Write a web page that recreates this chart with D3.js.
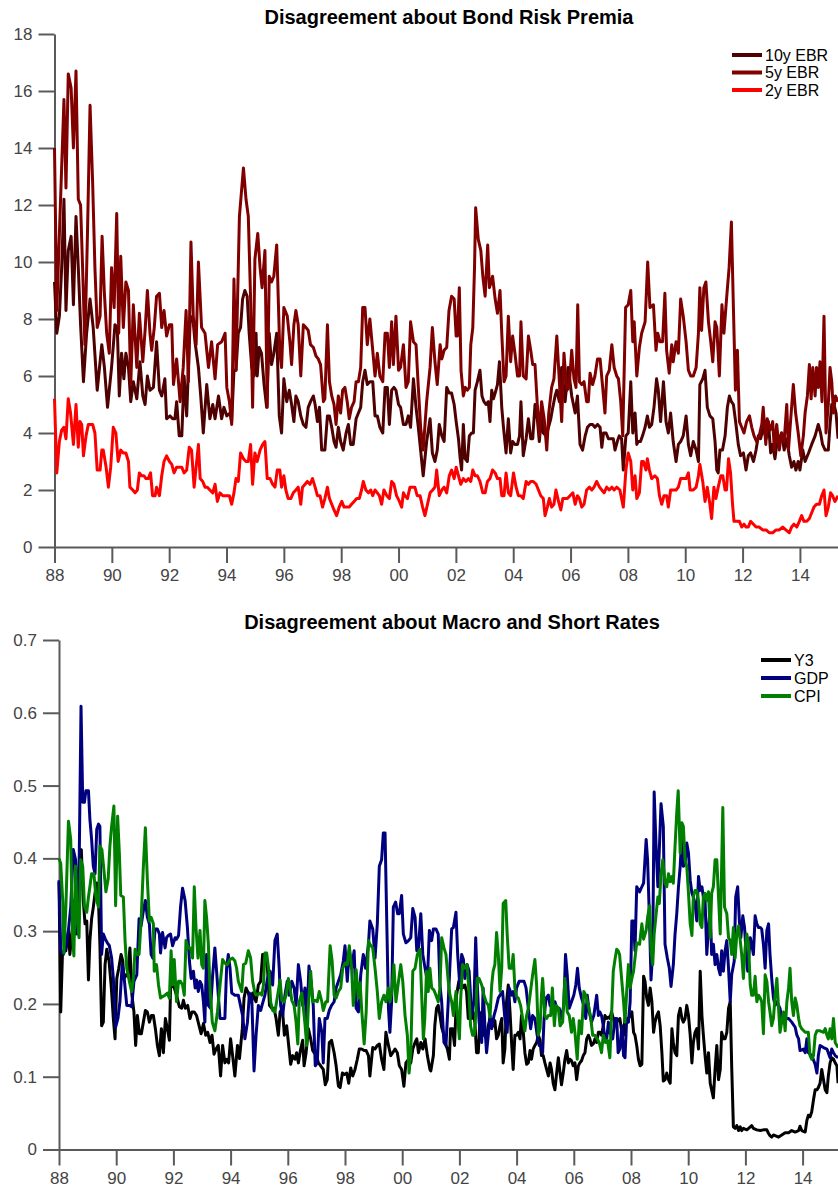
<!DOCTYPE html>
<html>
<head>
<meta charset="utf-8">
<script src="https://cdn.jsdelivr.net/npm/d3@7"></script>
<style>
body { margin: 0; background: #fff; }
svg { display: block; font-family: "Liberation Sans", Arial, Helvetica, sans-serif; }
</style>
</head>
<body>
<svg id="chart" width="838" height="1190"></svg>
<script>
// ---- data ([decimal year, value]) ----
const yearTicks = [1988, 1990, 1992, 1994, 1996, 1998, 2000, 2002, 2004, 2006, 2008, 2010, 2012, 2014];
const ebrTicks = [0, 2, 4, 6, 8, 10, 12, 14, 16, 18];
const macroTicks = [0, 0.1, 0.2, 0.3, 0.4, 0.5, 0.6, 0.7];

const ebrNames = ["10y EBR", "5y EBR", "2y EBR"];
const ebrColors = ["#4f0000", "#800000", "#ff0000"];
const macroNames = ["Y3", "GDP", "CPI"];
const macroColors = ["#000000", "#00007f", "#007f00"];

const ebr10y = [
  [1988.00,9.3],[1988.08,7.5],[1988.17,8.1],[1988.25,9.8],[1988.33,12.2],[1988.40,8.3],[1988.48,10.4],[1988.58,10.9],
  [1988.66,8.5],[1988.75,11.6],[1988.83,9.8],[1988.91,7.8],[1989.01,5.8],[1989.12,7.5],[1989.24,8.7],[1989.35,7.7],
  [1989.49,5.5],[1989.65,7.1],[1989.74,6.3],[1989.85,4.9],[1989.99,6.3],[1990.11,7.8],[1990.19,7.7],[1990.26,5.3],
  [1990.34,6.8],[1990.42,5.9],[1990.49,6.8],[1990.58,6.3],[1990.66,5.1],[1990.75,5.8],[1990.87,5.2],[1990.98,6.5],
  [1991.08,5.3],[1991.16,5.0],[1991.24,6.0],[1991.33,5.5],[1991.45,5.6],[1991.56,7.2],[1991.66,5.5],[1991.74,5.3],
  [1991.85,5.9],[1991.91,4.5],[1992.03,4.6],[1992.12,4.5],[1992.20,4.5],[1992.26,5.1],[1992.35,3.9],[1992.44,3.9],
  [1992.52,6.0],[1992.61,4.6],[1992.73,7.9],[1992.82,8.1],[1992.90,7.2],[1993.02,6.3],[1993.10,5.3],[1993.19,4.0],
  [1993.31,5.7],[1993.42,4.5],[1993.52,5.0],[1993.60,4.5],[1993.72,5.3],[1993.83,4.5],[1993.91,4.9],[1994.01,4.6],
  [1994.12,4.7],[1994.18,4.4],[1994.26,6.2],[1994.33,6.2],[1994.41,7.5],[1994.49,7.7],[1994.56,8.7],[1994.64,9.0],
  [1994.72,8.8],[1994.79,7.5],[1994.88,6.3],[1994.96,6.0],[1995.03,7.5],[1995.07,6.0],[1995.14,7.0],[1995.22,6.8],
  [1995.31,5.7],[1995.40,4.9],[1995.49,7.5],[1995.57,6.4],[1995.65,6.8],[1995.75,7.5],[1995.84,4.6],[1995.92,4.0],
  [1996.00,5.9],[1996.10,5.1],[1996.19,5.5],[1996.27,5.0],[1996.35,4.4],[1996.42,5.3],[1996.50,5.1],[1996.59,4.6],
  [1996.68,4.3],[1996.77,4.2],[1996.85,4.9],[1996.93,5.1],[1997.03,5.3],[1997.09,5.0],[1997.17,4.4],[1997.24,4.9],
  [1997.32,3.4],[1997.43,3.4],[1997.52,4.6],[1997.59,4.6],[1997.67,4.2],[1997.75,3.7],[1997.82,3.5],[1997.90,4.2],
  [1997.98,3.7],[1998.07,3.4],[1998.17,4.0],[1998.25,4.3],[1998.33,3.6],[1998.42,3.6],[1998.52,4.5],[1998.60,4.7],
  [1998.68,4.9],[1998.75,5.8],[1998.83,6.2],[1998.91,5.7],[1999.00,5.8],[1999.10,5.8],[1999.18,4.6],[1999.26,4.6],
  [1999.35,4.2],[1999.45,4.0],[1999.53,5.6],[1999.61,5.6],[1999.68,4.3],[1999.76,5.5],[1999.84,5.6],[1999.91,5.5],
  [2000.00,5.0],[2000.07,4.9],[2000.17,4.3],[2000.26,4.3],[2000.34,4.6],[2000.42,4.2],[2000.52,5.9],[2000.61,4.9],
  [2000.69,4.2],[2000.77,3.4],[2000.86,2.5],[2000.98,3.7],[2001.10,4.5],[2001.18,3.3],[2001.27,3.0],[2001.35,3.4],
  [2001.42,4.3],[2001.51,3.9],[2001.59,3.7],[2001.68,5.6],[2001.77,5.4],[2001.85,5.4],[2001.94,5.0],[2002.01,4.4],
  [2002.09,3.8],[2002.15,3.1],[2002.20,2.7],[2002.26,4.3],[2002.32,3.1],[2002.40,3.0],[2002.47,3.9],[2002.55,4.0],
  [2002.61,4.0],[2002.67,5.5],[2002.75,5.8],[2002.84,6.2],[2002.91,5.3],[2002.98,5.1],[2003.05,5.0],[2003.13,5.1],
  [2003.19,4.4],[2003.25,5.5],[2003.31,5.2],[2003.37,5.4],[2003.45,5.7],[2003.52,6.5],[2003.60,4.9],[2003.66,4.2],
  [2003.75,3.3],[2003.83,4.5],[2003.91,3.3],[2003.98,3.7],[2004.06,3.6],[2004.15,3.6],[2004.22,3.9],[2004.27,5.1],
  [2004.35,3.2],[2004.45,3.8],[2004.53,4.5],[2004.61,3.8],[2004.68,3.8],[2004.76,5.0],[2004.84,4.5],[2004.91,3.7],
  [2004.99,4.6],[2005.05,4.0],[2005.15,3.9],[2005.23,4.2],[2005.31,4.5],[2005.38,4.9],[2005.46,5.3],[2005.52,5.5],
  [2005.61,5.1],[2005.69,6.3],[2005.81,5.1],[2005.92,6.3],[2006.04,5.3],[2006.16,4.7],[2006.24,5.3],[2006.33,3.6],
  [2006.42,3.4],[2006.51,3.9],[2006.59,4.2],[2006.68,4.3],[2006.77,4.3],[2006.85,4.2],[2006.94,4.3],[2007.03,4.2],
  [2007.09,3.5],[2007.15,4.0],[2007.24,4.0],[2007.32,3.8],[2007.40,3.8],[2007.49,3.8],[2007.55,3.4],[2007.63,3.7],
  [2007.70,3.9],[2007.78,3.8],[2007.84,2.7],[2007.93,3.9],[2008.01,4.0],[2008.10,5.8],[2008.17,4.0],[2008.25,4.7],
  [2008.31,3.6],[2008.36,3.7],[2008.44,3.7],[2008.51,3.9],[2008.60,4.2],[2008.68,4.6],[2008.75,4.2],[2008.83,4.3],
  [2008.91,4.9],[2009.00,5.9],[2009.06,5.5],[2009.14,4.4],[2009.24,5.8],[2009.33,4.4],[2009.41,4.0],[2009.49,4.7],
  [2009.58,3.7],[2009.68,3.0],[2009.76,3.6],[2009.84,3.7],[2009.93,3.9],[2010.03,4.6],[2010.11,3.6],[2010.19,3.2],
  [2010.28,3.7],[2010.38,3.4],[2010.46,3.0],[2010.51,5.7],[2010.61,5.9],[2010.69,6.2],[2010.77,4.9],[2010.86,4.6],
  [2010.96,4.5],[2011.04,3.7],[2011.10,2.7],[2011.15,2.6],[2011.21,3.4],[2011.30,3.4],[2011.39,3.9],[2011.47,4.9],
  [2011.54,5.3],[2011.61,5.1],[2011.68,5.0],[2011.77,4.3],[2011.85,3.6],[2011.93,3.2],[2012.03,3.3],[2012.12,2.7],
  [2012.20,3.2],[2012.28,3.3],[2012.38,3.0],[2012.47,3.4],[2012.55,3.9],[2012.63,3.8],[2012.72,4.2],[2012.82,3.8],
  [2012.90,4.4],[2012.98,3.3],[2013.05,3.6],[2013.13,3.1],[2013.19,3.6],[2013.28,3.8],[2013.36,4.0],[2013.45,3.4],
  [2013.54,3.8],[2013.63,3.2],[2013.71,2.8],[2013.79,3.0],[2013.86,2.7],[2013.94,3.0],[2014.00,2.7],[2014.10,3.4],
  [2014.18,3.0],[2014.30,3.3],[2014.41,3.6],[2014.53,3.9],[2014.64,4.3],[2014.72,4.0],[2014.79,3.6],[2014.88,3.4],
  [2014.99,3.4],[2015.05,4.3],[2015.11,5.0],[2015.19,5.0],[2015.26,4.7],[2015.33,3.8]
];

const ebr5y = [
  [1988.00,14.0],[1988.08,8.3],[1988.33,15.7],[1988.40,12.6],[1988.48,16.6],[1988.58,16.1],[1988.66,14.0],[1988.75,16.7],
  [1988.83,12.2],[1988.91,12.0],[1988.98,9.8],[1989.06,7.1],[1989.15,11.0],[1989.24,15.5],[1989.33,12.8],[1989.41,9.8],
  [1989.49,7.7],[1989.59,8.1],[1989.66,10.9],[1989.74,8.9],[1989.82,7.5],[1989.91,6.8],[1989.99,9.8],[1990.08,8.4],
  [1990.17,11.7],[1990.24,7.5],[1990.31,10.2],[1990.40,7.7],[1990.49,9.3],[1990.58,9.0],[1990.66,5.7],[1990.75,8.5],
  [1990.87,6.3],[1990.96,8.2],[1991.08,6.5],[1991.16,7.6],[1991.24,9.0],[1991.33,7.5],[1991.39,6.9],[1991.48,7.7],
  [1991.56,8.8],[1991.66,8.9],[1991.74,7.7],[1991.82,8.3],[1991.91,7.4],[1992.01,7.8],[1992.09,7.8],[1992.15,5.7],
  [1992.26,6.6],[1992.38,5.1],[1992.49,6.3],[1992.59,8.3],[1992.67,5.8],[1992.76,10.7],[1992.84,8.1],[1992.94,7.1],
  [1993.02,10.0],[1993.13,7.7],[1993.25,7.5],[1993.37,6.3],[1993.48,7.2],[1993.60,5.9],[1993.69,7.1],[1993.83,7.2],
  [1993.95,7.5],[1994.01,5.6],[1994.10,5.1],[1994.18,4.3],[1994.26,9.4],[1994.33,6.2],[1994.45,11.6],[1994.59,13.3],
  [1994.68,12.2],[1994.76,11.6],[1994.84,8.7],[1994.91,4.9],[1994.99,10.1],[1995.09,11.0],[1995.17,9.8],[1995.24,9.1],
  [1995.34,10.4],[1995.42,4.9],[1995.49,9.5],[1995.57,9.3],[1995.65,9.5],[1995.75,10.6],[1995.86,6.8],[1995.92,6.3],
  [1996.00,8.4],[1996.12,8.1],[1996.21,7.2],[1996.27,6.4],[1996.35,7.8],[1996.42,8.3],[1996.50,7.8],[1996.59,6.0],
  [1996.68,7.8],[1996.77,7.7],[1996.85,7.6],[1996.93,7.1],[1997.03,7.0],[1997.12,6.7],[1997.20,6.6],[1997.28,6.4],
  [1997.38,5.1],[1997.43,5.2],[1997.52,7.8],[1997.59,5.8],[1997.67,5.3],[1997.75,5.0],[1997.82,4.3],[1997.90,5.3],
  [1997.98,4.7],[1998.05,5.5],[1998.13,5.6],[1998.21,5.1],[1998.28,4.5],[1998.36,4.9],[1998.45,5.1],[1998.52,5.8],
  [1998.60,5.8],[1998.68,6.3],[1998.75,8.4],[1998.83,8.4],[1998.91,7.1],[1999.00,8.0],[1999.10,6.9],[1999.18,6.0],
  [1999.26,6.8],[1999.35,6.0],[1999.45,5.8],[1999.53,7.5],[1999.61,7.5],[1999.68,6.3],[1999.76,7.9],[1999.82,6.4],
  [1999.91,8.1],[2000.00,6.2],[2000.07,6.3],[2000.17,7.1],[2000.26,5.6],[2000.34,5.8],[2000.42,7.9],[2000.52,7.2],
  [2000.61,7.1],[2000.69,5.6],[2000.77,4.2],[2000.86,3.4],[2000.98,5.1],[2001.10,6.3],[2001.18,7.7],[2001.27,6.5],
  [2001.35,5.7],[2001.45,7.1],[2001.51,6.6],[2001.59,6.9],[2001.68,7.0],[2001.76,8.3],[2001.85,8.8],[2001.94,8.7],
  [2002.01,7.4],[2002.05,7.4],[2002.12,9.1],[2002.18,6.2],[2002.26,5.3],[2002.33,5.6],[2002.40,5.5],[2002.47,5.6],
  [2002.52,7.1],[2002.59,7.7],[2002.65,9.8],[2002.69,11.9],[2002.78,10.8],[2002.87,10.4],[2002.94,9.5],[2003.02,8.8],
  [2003.11,10.6],[2003.17,9.1],[2003.23,9.3],[2003.28,9.5],[2003.37,8.7],[2003.45,8.2],[2003.54,9.0],[2003.60,7.5],
  [2003.68,5.8],[2003.75,6.0],[2003.83,8.1],[2003.91,6.5],[2003.98,7.4],[2004.06,6.8],[2004.15,6.0],[2004.22,6.0],
  [2004.27,7.9],[2004.35,6.0],[2004.45,5.9],[2004.53,7.4],[2004.61,6.9],[2004.68,6.4],[2004.76,6.4],[2004.84,5.0],
  [2004.91,3.9],[2004.99,5.1],[2005.08,4.5],[2005.17,3.4],[2005.24,4.7],[2005.34,5.6],[2005.42,5.9],[2005.52,7.4],
  [2005.61,5.8],[2005.69,4.4],[2005.77,6.8],[2005.87,5.5],[2005.95,5.6],[2006.04,6.9],[2006.12,5.9],[2006.19,5.6],
  [2006.25,8.5],[2006.31,5.8],[2006.39,5.7],[2006.47,5.8],[2006.56,5.1],[2006.62,5.1],[2006.68,6.1],[2006.77,5.7],
  [2006.85,6.0],[2006.94,6.6],[2007.03,6.6],[2007.12,5.6],[2007.20,4.7],[2007.26,6.0],[2007.35,6.2],[2007.44,7.1],
  [2007.52,6.3],[2007.61,6.0],[2007.67,5.9],[2007.75,5.1],[2007.82,3.9],[2007.92,8.4],[2008.01,8.5],[2008.10,9.0],
  [2008.17,7.2],[2008.22,7.9],[2008.31,6.0],[2008.40,7.0],[2008.48,7.5],[2008.60,7.9],[2008.69,10.0],[2008.77,8.4],
  [2008.89,8.5],[2008.98,6.9],[2009.04,7.5],[2009.12,7.2],[2009.21,7.2],[2009.29,8.9],[2009.35,6.9],[2009.44,6.1],
  [2009.53,7.1],[2009.58,6.5],[2009.68,7.2],[2009.76,6.8],[2009.84,8.7],[2009.93,8.1],[2010.03,7.2],[2010.11,6.2],
  [2010.19,6.0],[2010.28,6.0],[2010.38,6.3],[2010.46,7.5],[2010.51,9.1],[2010.57,7.6],[2010.65,9.1],[2010.72,9.3],
  [2010.81,7.9],[2010.89,7.2],[2010.96,6.5],[2011.04,7.9],[2011.10,7.7],[2011.19,6.0],[2011.28,8.5],[2011.35,7.5],
  [2011.44,8.7],[2011.53,9.8],[2011.61,11.4],[2011.68,8.4],[2011.75,5.5],[2011.82,6.9],[2011.89,4.4],[2011.97,4.2],
  [2012.05,4.0],[2012.14,4.4],[2012.24,4.6],[2012.32,4.2],[2012.40,3.9],[2012.49,3.7],[2012.58,3.9],[2012.67,4.3],
  [2012.72,4.9],[2012.81,3.6],[2012.86,4.5],[2012.96,4.1],[2013.05,4.4],[2013.11,3.4],[2013.19,4.3],[2013.28,3.4],
  [2013.36,4.0],[2013.45,3.7],[2013.54,5.0],[2013.60,3.4],[2013.68,4.5],[2013.77,5.7],[2013.85,4.7],[2013.94,4.0],
  [2014.03,3.2],[2014.12,3.9],[2014.18,4.7],[2014.26,5.3],[2014.33,6.4],[2014.39,5.2],[2014.45,6.3],[2014.53,5.3],
  [2014.58,6.3],[2014.64,5.6],[2014.70,6.5],[2014.77,5.1],[2014.84,8.1],[2014.91,4.0],[2014.99,5.0],[2015.05,6.3],
  [2015.11,5.8],[2015.17,4.7],[2015.24,5.3],[2015.33,5.1]
];

const ebr2y = [
  [1988.00,5.2],[1988.08,2.6],[1988.17,3.7],[1988.25,4.1],[1988.33,4.2],[1988.40,3.8],[1988.48,5.2],[1988.56,4.7],
  [1988.66,3.6],[1988.75,5.0],[1988.83,3.5],[1988.89,4.4],[1988.95,4.3],[1989.01,3.2],[1989.10,3.9],[1989.18,4.3],
  [1989.26,4.3],[1989.33,4.3],[1989.41,4.0],[1989.49,2.7],[1989.59,2.7],[1989.65,3.4],[1989.70,3.4],[1989.80,2.8],
  [1989.88,2.1],[1989.96,2.8],[1990.05,4.2],[1990.14,4.0],[1990.22,3.0],[1990.31,3.4],[1990.40,3.3],[1990.49,3.3],
  [1990.58,3.0],[1990.63,2.1],[1990.73,2.0],[1990.81,1.9],[1990.89,2.0],[1990.96,2.6],[1991.04,2.5],[1991.12,2.5],
  [1991.19,2.4],[1991.27,2.4],[1991.35,2.6],[1991.42,1.8],[1991.51,1.8],[1991.56,2.1],[1991.66,1.8],[1991.74,2.5],
  [1991.82,3.0],[1991.91,3.2],[1992.01,3.0],[1992.09,2.9],[1992.17,2.6],[1992.26,2.8],[1992.35,2.8],[1992.44,2.8],
  [1992.52,2.6],[1992.61,2.7],[1992.70,3.5],[1992.78,3.4],[1992.87,2.1],[1992.94,2.8],[1993.02,3.6],[1993.08,2.4],
  [1993.17,2.3],[1993.25,2.1],[1993.33,2.1],[1993.42,2.0],[1993.52,1.9],[1993.60,2.2],[1993.68,1.6],[1993.77,1.9],
  [1993.87,1.8],[1993.95,1.8],[1994.03,1.8],[1994.10,1.8],[1994.18,1.5],[1994.26,1.9],[1994.33,2.4],[1994.41,2.3],
  [1994.49,3.3],[1994.59,3.1],[1994.68,3.0],[1994.76,3.0],[1994.84,3.6],[1994.91,2.2],[1994.99,3.3],[1995.07,3.0],
  [1995.17,3.4],[1995.26,3.6],[1995.34,3.7],[1995.42,2.4],[1995.52,2.4],[1995.61,2.2],[1995.69,2.1],[1995.77,2.7],
  [1995.86,2.7],[1995.92,2.1],[1996.00,2.5],[1996.07,2.0],[1996.15,1.7],[1996.24,1.7],[1996.33,1.9],[1996.42,2.0],
  [1996.50,2.1],[1996.59,1.5],[1996.65,2.1],[1996.74,2.2],[1996.82,2.3],[1996.91,2.2],[1997.00,2.4],[1997.09,2.1],
  [1997.17,1.8],[1997.26,1.8],[1997.35,1.4],[1997.43,1.7],[1997.52,2.1],[1997.59,1.7],[1997.67,1.5],[1997.75,1.3],
  [1997.84,1.1],[1997.93,1.4],[1998.02,1.6],[1998.10,1.4],[1998.19,1.4],[1998.28,1.4],[1998.36,1.5],[1998.45,1.6],
  [1998.54,1.7],[1998.63,1.7],[1998.71,2.0],[1998.77,2.3],[1998.86,2.0],[1998.95,1.9],[1999.03,2.0],[1999.10,1.8],
  [1999.18,2.0],[1999.26,1.9],[1999.33,1.8],[1999.41,1.5],[1999.49,2.0],[1999.59,1.8],[1999.68,1.7],[1999.76,2.3],
  [1999.84,2.2],[1999.93,1.8],[2000.03,1.6],[2000.11,1.4],[2000.17,1.9],[2000.22,1.8],[2000.31,1.7],[2000.40,2.1],
  [2000.49,2.1],[2000.57,2.1],[2000.65,1.8],[2000.75,1.8],[2000.84,1.4],[2000.92,1.1],[2001.01,1.5],[2001.10,1.9],
  [2001.19,2.0],[2001.27,2.1],[2001.33,2.7],[2001.42,1.8],[2001.51,2.0],[2001.59,2.1],[2001.68,1.9],[2001.77,2.5],
  [2001.85,2.7],[2001.94,2.4],[2002.01,2.8],[2002.09,2.5],[2002.17,2.2],[2002.26,2.4],[2002.35,2.3],[2002.44,2.4],
  [2002.52,2.3],[2002.59,2.7],[2002.67,2.5],[2002.75,2.5],[2002.84,2.3],[2002.94,1.9],[2003.02,1.9],[2003.10,2.3],
  [2003.19,2.4],[2003.28,2.7],[2003.37,2.6],[2003.45,2.4],[2003.54,2.4],[2003.60,1.8],[2003.68,1.8],[2003.75,2.6],
  [2003.83,1.9],[2003.91,1.8],[2004.01,2.6],[2004.10,2.1],[2004.18,1.8],[2004.26,1.8],[2004.35,1.7],[2004.45,2.3],
  [2004.53,2.2],[2004.61,2.3],[2004.70,2.3],[2004.80,2.2],[2004.88,2.0],[2004.96,1.8],[2005.05,1.7],[2005.11,1.1],
  [2005.19,1.4],[2005.26,1.7],[2005.34,1.4],[2005.42,1.5],[2005.49,2.0],[2005.58,1.6],[2005.66,1.3],[2005.73,1.7],
  [2005.81,1.7],[2005.89,1.7],[2005.98,1.8],[2006.08,1.9],[2006.16,1.5],[2006.24,1.8],[2006.31,1.7],[2006.39,1.4],
  [2006.47,1.5],[2006.56,2.0],[2006.66,2.1],[2006.74,2.0],[2006.82,2.1],[2006.91,2.3],[2007.01,2.1],[2007.09,2.0],
  [2007.17,1.9],[2007.26,2.1],[2007.35,2.0],[2007.44,2.1],[2007.52,2.0],[2007.61,2.1],[2007.72,2.0],[2007.84,1.4],
  [2007.93,2.7],[2008.01,3.3],[2008.10,3.0],[2008.17,2.0],[2008.25,2.5],[2008.31,1.7],[2008.40,1.9],[2008.48,3.0],
  [2008.54,3.0],[2008.63,2.7],[2008.68,3.1],[2008.75,2.7],[2008.83,2.4],[2008.94,2.5],[2009.03,2.4],[2009.10,1.8],
  [2009.18,1.5],[2009.26,1.8],[2009.35,1.8],[2009.41,1.4],[2009.49,2.0],[2009.58,2.0],[2009.68,2.0],[2009.76,2.1],
  [2009.84,2.4],[2009.93,2.4],[2010.03,2.4],[2010.11,2.6],[2010.17,2.0],[2010.28,2.0],[2010.38,2.1],[2010.46,2.5],
  [2010.51,2.9],[2010.61,2.3],[2010.69,1.6],[2010.77,2.1],[2010.86,1.5],[2010.92,1.0],[2011.00,2.1],[2011.07,1.7],
  [2011.15,2.1],[2011.24,2.5],[2011.31,2.5],[2011.39,2.0],[2011.44,2.0],[2011.51,3.1],[2011.58,2.6],[2011.65,1.5],
  [2011.70,0.9],[2011.79,0.9],[2011.89,0.9],[2011.97,0.7],[2012.05,0.8],[2012.12,0.7],[2012.20,0.7],[2012.28,0.9],
  [2012.38,0.8],[2012.47,0.7],[2012.58,0.7],[2012.70,0.6],[2012.82,0.6],[2012.93,0.5],[2013.05,0.5],[2013.17,0.6],
  [2013.28,0.6],[2013.40,0.7],[2013.51,0.6],[2013.63,0.5],[2013.71,0.7],[2013.79,0.8],[2013.89,0.7],[2013.98,0.9],
  [2014.06,1.1],[2014.14,0.9],[2014.24,0.9],[2014.33,1.0],[2014.41,1.2],[2014.49,1.4],[2014.58,1.5],[2014.68,1.5],
  [2014.76,1.8],[2014.84,2.0],[2014.91,1.1],[2014.99,1.4],[2015.07,1.9],[2015.14,1.8],[2015.22,1.6],[2015.33,1.8]
];

const dispY3 = [
  [1988.00,0.368],[1988.06,0.189],[1988.12,0.268],[1988.17,0.273],[1988.24,0.273],[1988.33,0.301],[1988.38,0.268],[1988.47,0.305],
  [1988.54,0.342],[1988.59,0.296],[1988.64,0.301],[1988.71,0.361],[1988.78,0.412],[1988.85,0.342],[1988.91,0.310],[1988.97,0.314],
  [1989.03,0.233],[1989.08,0.287],[1989.14,0.317],[1989.20,0.333],[1989.26,0.352],[1989.32,0.366],[1989.38,0.342],[1989.43,0.282],
  [1989.49,0.170],[1989.55,0.175],[1989.61,0.254],[1989.67,0.275],[1989.75,0.259],[1989.83,0.222],[1989.90,0.180],[1989.96,0.152],
  [1990.02,0.235],[1990.09,0.249],[1990.17,0.268],[1990.23,0.259],[1990.27,0.235],[1990.34,0.240],[1990.40,0.238],[1990.48,0.277],
  [1990.55,0.212],[1990.62,0.189],[1990.68,0.143],[1990.74,0.184],[1990.81,0.159],[1990.88,0.159],[1990.95,0.175],[1991.02,0.191],
  [1991.09,0.189],[1991.16,0.175],[1991.23,0.184],[1991.30,0.184],[1991.37,0.166],[1991.44,0.143],[1991.51,0.129],[1991.58,0.166],
  [1991.65,0.133],[1991.72,0.180],[1991.79,0.166],[1991.86,0.150],[1991.90,0.222],[1991.97,0.226],[1992.03,0.222],[1992.11,0.212],
  [1992.21,0.196],[1992.29,0.194],[1992.35,0.205],[1992.42,0.194],[1992.50,0.198],[1992.58,0.180],[1992.65,0.189],[1992.73,0.189],
  [1992.81,0.184],[1992.90,0.170],[1992.97,0.159],[1993.05,0.173],[1993.13,0.157],[1993.20,0.161],[1993.28,0.147],[1993.35,0.157],
  [1993.42,0.131],[1993.49,0.138],[1993.57,0.143],[1993.65,0.101],[1993.72,0.143],[1993.80,0.119],[1993.86,0.124],[1993.93,0.119],
  [1994.00,0.152],[1994.07,0.129],[1994.15,0.101],[1994.24,0.143],[1994.31,0.125],[1994.41,0.166],[1994.47,0.208],[1994.54,0.222],
  [1994.62,0.215],[1994.70,0.203],[1994.77,0.215],[1994.82,0.208],[1994.89,0.203],[1994.97,0.226],[1995.05,0.231],[1995.12,0.268],
  [1995.20,0.268],[1995.29,0.249],[1995.36,0.198],[1995.44,0.194],[1995.52,0.194],[1995.59,0.180],[1995.67,0.157],[1995.73,0.189],
  [1995.81,0.194],[1995.88,0.157],[1995.96,0.170],[1996.02,0.147],[1996.10,0.117],[1996.17,0.129],[1996.25,0.124],[1996.31,0.133],
  [1996.37,0.119],[1996.45,0.138],[1996.52,0.150],[1996.57,0.115],[1996.64,0.133],[1996.72,0.166],[1996.80,0.152],[1996.87,0.136],
  [1996.92,0.133],[1996.99,0.131],[1997.07,0.119],[1997.15,0.115],[1997.24,0.110],[1997.31,0.089],[1997.38,0.096],[1997.45,0.147],
  [1997.53,0.150],[1997.62,0.133],[1997.69,0.115],[1997.77,0.087],[1997.83,0.085],[1997.91,0.105],[1997.98,0.103],[1998.06,0.105],
  [1998.13,0.091],[1998.20,0.112],[1998.27,0.101],[1998.35,0.110],[1998.43,0.124],[1998.50,0.138],[1998.58,0.138],[1998.67,0.136],
  [1998.74,0.136],[1998.82,0.129],[1998.87,0.101],[1998.97,0.140],[1999.05,0.138],[1999.13,0.143],[1999.20,0.145],[1999.28,0.124],
  [1999.36,0.110],[1999.43,0.161],[1999.52,0.143],[1999.60,0.129],[1999.67,0.133],[1999.75,0.138],[1999.83,0.133],[1999.90,0.115],
  [1999.98,0.110],[2000.06,0.087],[2000.13,0.119],[2000.22,0.124],[2000.30,0.119],[2000.37,0.138],[2000.45,0.147],[2000.51,0.152],
  [2000.57,0.133],[2000.65,0.147],[2000.72,0.138],[2000.80,0.152],[2000.88,0.129],[2000.97,0.110],[2001.00,0.108],[2001.09,0.129],
  [2001.14,0.170],[2001.20,0.194],[2001.26,0.198],[2001.32,0.184],[2001.38,0.168],[2001.46,0.157],[2001.53,0.143],[2001.58,0.138],
  [2001.65,0.124],[2001.69,0.166],[2001.76,0.166],[2001.83,0.143],[2001.90,0.212],[2001.98,0.231],[2002.04,0.235],[2002.11,0.222],
  [2002.19,0.226],[2002.25,0.217],[2002.31,0.180],[2002.37,0.180],[2002.43,0.180],[2002.48,0.189],[2002.54,0.175],[2002.60,0.133],
  [2002.66,0.133],[2002.72,0.180],[2002.78,0.189],[2002.83,0.157],[2002.89,0.157],[2002.95,0.152],[2003.01,0.170],[2003.07,0.180],
  [2003.13,0.175],[2003.18,0.170],[2003.24,0.177],[2003.30,0.152],[2003.36,0.157],[2003.42,0.170],[2003.48,0.180],[2003.53,0.119],
  [2003.59,0.138],[2003.65,0.203],[2003.71,0.226],[2003.77,0.189],[2003.83,0.143],[2003.88,0.110],[2003.94,0.157],[2004.00,0.157],
  [2004.06,0.161],[2004.12,0.152],[2004.17,0.184],[2004.23,0.163],[2004.29,0.133],[2004.35,0.117],[2004.41,0.119],[2004.47,0.136],
  [2004.52,0.124],[2004.58,0.138],[2004.64,0.143],[2004.70,0.147],[2004.76,0.157],[2004.82,0.150],[2004.87,0.129],[2004.93,0.129],
  [2004.99,0.119],[2005.05,0.110],[2005.11,0.101],[2005.17,0.119],[2005.22,0.110],[2005.28,0.091],[2005.34,0.082],[2005.40,0.105],
  [2005.46,0.126],[2005.52,0.105],[2005.57,0.089],[2005.63,0.105],[2005.69,0.124],[2005.75,0.136],[2005.81,0.119],[2005.86,0.124],
  [2005.92,0.122],[2005.98,0.115],[2006.04,0.119],[2006.10,0.096],[2006.16,0.115],[2006.21,0.119],[2006.27,0.122],[2006.33,0.129],
  [2006.39,0.133],[2006.45,0.152],[2006.51,0.157],[2006.56,0.152],[2006.62,0.143],[2006.68,0.145],[2006.74,0.152],[2006.80,0.147],
  [2006.86,0.161],[2006.91,0.161],[2006.97,0.157],[2007.03,0.170],[2007.09,0.184],[2007.15,0.180],[2007.21,0.182],[2007.26,0.180],
  [2007.32,0.189],[2007.38,0.180],[2007.44,0.175],[2007.50,0.175],[2007.61,0.180],[2007.68,0.161],[2007.74,0.157],[2007.79,0.180],
  [2007.91,0.180],[2007.97,0.184],[2008.03,0.189],[2008.09,0.161],[2008.14,0.157],[2008.20,0.143],[2008.26,0.124],[2008.32,0.115],
  [2008.38,0.117],[2008.44,0.238],[2008.49,0.231],[2008.55,0.208],[2008.61,0.198],[2008.67,0.222],[2008.73,0.203],[2008.79,0.161],
  [2008.84,0.175],[2008.90,0.184],[2008.96,0.189],[2009.02,0.170],[2009.08,0.133],[2009.13,0.094],[2009.19,0.096],[2009.25,0.105],
  [2009.31,0.096],[2009.37,0.091],[2009.43,0.166],[2009.48,0.147],[2009.54,0.133],[2009.60,0.129],[2009.66,0.184],[2009.72,0.194],
  [2009.78,0.180],[2009.83,0.175],[2009.89,0.180],[2009.95,0.198],[2010.01,0.184],[2010.07,0.157],[2010.13,0.119],[2010.18,0.147],
  [2010.24,0.161],[2010.30,0.166],[2010.36,0.138],[2010.42,0.245],[2010.48,0.184],[2010.53,0.157],[2010.59,0.129],[2010.65,0.105],
  [2010.71,0.133],[2010.77,0.091],[2010.82,0.082],[2010.88,0.071],[2010.94,0.110],[2011.00,0.143],[2011.06,0.096],[2011.12,0.110],
  [2011.17,0.161],[2011.23,0.152],[2011.29,0.152],[2011.35,0.161],[2011.41,0.194],[2011.47,0.203],[2011.52,0.115],[2011.58,0.031],
  [2011.64,0.029],[2011.70,0.033],[2011.76,0.026],[2011.82,0.031],[2011.87,0.026],[2011.93,0.029],[2012.05,0.027],[2012.17,0.031],
  [2012.22,0.033],[2012.28,0.029],[2012.40,0.027],[2012.52,0.026],[2012.63,0.027],[2012.75,0.027],[2012.81,0.022],[2012.86,0.019],
  [2012.92,0.017],[2012.98,0.020],[2013.04,0.019],[2013.16,0.017],[2013.27,0.020],[2013.39,0.023],[2013.51,0.023],[2013.62,0.026],
  [2013.74,0.024],[2013.86,0.026],[2013.91,0.032],[2013.97,0.026],[2014.09,0.024],[2014.15,0.040],[2014.20,0.047],[2014.26,0.045],
  [2014.32,0.052],[2014.38,0.068],[2014.44,0.082],[2014.50,0.082],[2014.55,0.085],[2014.61,0.091],[2014.67,0.110],[2014.73,0.096],
  [2014.79,0.082],[2014.85,0.078],[2014.90,0.101],[2014.96,0.119],[2015.02,0.126],[2015.08,0.124],[2015.14,0.119],[2015.20,0.115],
  [2015.24,0.091]
];

const dispGDP = [
  [1988.00,0.370],[1988.06,0.273],[1988.15,0.268],[1988.24,0.277],[1988.33,0.301],[1988.41,0.333],[1988.50,0.412],[1988.58,0.398],
  [1988.64,0.296],[1988.71,0.407],[1988.77,0.609],[1988.83,0.477],[1988.89,0.477],[1988.94,0.493],[1989.03,0.493],[1989.08,0.454],
  [1989.14,0.426],[1989.20,0.389],[1989.26,0.379],[1989.32,0.440],[1989.38,0.447],[1989.43,0.444],[1989.49,0.268],[1989.55,0.296],
  [1989.62,0.289],[1989.69,0.284],[1989.76,0.280],[1989.84,0.263],[1989.90,0.235],[1989.98,0.168],[1990.06,0.180],[1990.13,0.203],
  [1990.21,0.254],[1990.28,0.235],[1990.37,0.198],[1990.46,0.198],[1990.54,0.196],[1990.62,0.231],[1990.72,0.240],[1990.80,0.317],
  [1990.87,0.307],[1990.95,0.328],[1991.02,0.342],[1991.09,0.319],[1991.16,0.310],[1991.22,0.268],[1991.28,0.263],[1991.36,0.303],
  [1991.44,0.303],[1991.51,0.296],[1991.55,0.270],[1991.62,0.298],[1991.71,0.277],[1991.76,0.291],[1991.82,0.294],[1991.90,0.296],
  [1991.97,0.280],[1992.06,0.291],[1992.11,0.289],[1992.18,0.294],[1992.25,0.333],[1992.32,0.359],[1992.41,0.342],[1992.49,0.305],
  [1992.56,0.259],[1992.62,0.235],[1992.70,0.245],[1992.76,0.222],[1992.81,0.233],[1992.87,0.217],[1992.93,0.231],[1992.99,0.226],
  [1993.05,0.203],[1993.10,0.175],[1993.16,0.268],[1993.22,0.198],[1993.30,0.194],[1993.37,0.238],[1993.45,0.277],[1993.51,0.245],
  [1993.57,0.212],[1993.63,0.180],[1993.72,0.180],[1993.80,0.180],[1993.86,0.249],[1993.92,0.268],[1993.98,0.249],[1994.04,0.215],
  [1994.15,0.212],[1994.27,0.212],[1994.42,0.184],[1994.50,0.152],[1994.59,0.175],[1994.66,0.215],[1994.74,0.208],[1994.82,0.108],
  [1994.89,0.157],[1994.97,0.198],[1995.05,0.191],[1995.12,0.201],[1995.20,0.212],[1995.29,0.235],[1995.38,0.245],[1995.47,0.226],
  [1995.55,0.287],[1995.63,0.296],[1995.70,0.249],[1995.75,0.198],[1995.82,0.184],[1995.90,0.212],[1995.98,0.231],[1996.05,0.212],
  [1996.14,0.231],[1996.22,0.222],[1996.29,0.198],[1996.37,0.254],[1996.45,0.231],[1996.52,0.198],[1996.60,0.222],[1996.66,0.170],
  [1996.74,0.252],[1996.81,0.231],[1996.89,0.198],[1996.96,0.115],[1997.03,0.119],[1997.10,0.180],[1997.19,0.161],[1997.24,0.119],
  [1997.30,0.180],[1997.38,0.180],[1997.45,0.191],[1997.53,0.198],[1997.62,0.203],[1997.69,0.222],[1997.77,0.231],[1997.85,0.240],
  [1997.94,0.259],[1998.00,0.280],[1998.08,0.231],[1998.15,0.275],[1998.23,0.249],[1998.32,0.273],[1998.39,0.194],[1998.47,0.189],
  [1998.55,0.240],[1998.64,0.268],[1998.72,0.249],[1998.82,0.282],[1998.87,0.314],[1998.97,0.303],[1999.05,0.263],[1999.13,0.310],
  [1999.20,0.389],[1999.28,0.398],[1999.34,0.435],[1999.40,0.435],[1999.46,0.314],[1999.52,0.194],[1999.57,0.161],[1999.63,0.203],
  [1999.69,0.333],[1999.77,0.340],[1999.84,0.324],[1999.90,0.324],[1999.98,0.349],[2000.04,0.296],[2000.13,0.284],[2000.22,0.287],
  [2000.30,0.291],[2000.37,0.331],[2000.45,0.319],[2000.51,0.273],[2000.57,0.277],[2000.65,0.324],[2000.72,0.268],[2000.80,0.249],
  [2000.88,0.231],[2000.95,0.301],[2001.03,0.287],[2001.09,0.303],[2001.18,0.303],[2001.26,0.296],[2001.32,0.226],[2001.38,0.203],
  [2001.46,0.147],[2001.53,0.143],[2001.61,0.203],[2001.67,0.254],[2001.73,0.303],[2001.79,0.305],[2001.88,0.326],[2001.94,0.268],
  [2002.02,0.222],[2002.08,0.268],[2002.14,0.261],[2002.19,0.235],[2002.27,0.254],[2002.34,0.245],[2002.43,0.184],[2002.51,0.203],
  [2002.57,0.291],[2002.62,0.231],[2002.69,0.175],[2002.78,0.147],[2002.83,0.222],[2002.89,0.170],[2002.95,0.133],[2003.01,0.157],
  [2003.07,0.184],[2003.13,0.166],[2003.21,0.184],[2003.28,0.194],[2003.36,0.208],[2003.42,0.212],[2003.51,0.217],[2003.59,0.180],
  [2003.67,0.161],[2003.74,0.222],[2003.83,0.212],[2003.88,0.217],[2003.94,0.203],[2004.00,0.222],[2004.09,0.231],[2004.17,0.231],
  [2004.26,0.231],[2004.33,0.222],[2004.41,0.194],[2004.49,0.166],[2004.56,0.184],[2004.64,0.180],[2004.72,0.157],[2004.79,0.143],
  [2004.85,0.143],[2004.91,0.133],[2004.96,0.180],[2005.03,0.208],[2005.11,0.212],[2005.17,0.198],[2005.26,0.194],[2005.34,0.203],
  [2005.40,0.194],[2005.49,0.194],[2005.57,0.180],[2005.65,0.198],[2005.71,0.268],[2005.77,0.240],[2005.84,0.194],[2005.92,0.203],
  [2006.00,0.212],[2006.07,0.226],[2006.13,0.249],[2006.19,0.222],[2006.27,0.208],[2006.35,0.198],[2006.42,0.180],[2006.47,0.212],
  [2006.54,0.189],[2006.62,0.175],[2006.70,0.184],[2006.80,0.212],[2006.86,0.184],[2006.91,0.189],[2006.97,0.184],[2007.03,0.170],
  [2007.09,0.152],[2007.15,0.152],[2007.21,0.175],[2007.26,0.161],[2007.36,0.152],[2007.44,0.180],[2007.50,0.180],[2007.55,0.133],
  [2007.61,0.138],[2007.68,0.170],[2007.74,0.129],[2007.79,0.126],[2007.85,0.180],[2007.91,0.175],[2007.97,0.203],[2008.03,0.314],
  [2008.09,0.314],[2008.14,0.273],[2008.20,0.361],[2008.30,0.354],[2008.38,0.361],[2008.44,0.366],[2008.53,0.426],[2008.58,0.398],
  [2008.65,0.310],[2008.70,0.233],[2008.76,0.273],[2008.81,0.491],[2008.88,0.412],[2008.94,0.361],[2008.99,0.412],[2009.05,0.475],
  [2009.13,0.444],[2009.19,0.282],[2009.27,0.263],[2009.34,0.249],[2009.40,0.224],[2009.48,0.254],[2009.54,0.296],[2009.60,0.324],
  [2009.66,0.361],[2009.72,0.389],[2009.78,0.435],[2009.83,0.389],[2009.89,0.393],[2009.95,0.421],[2010.01,0.407],[2010.07,0.370],
  [2010.13,0.352],[2010.18,0.347],[2010.24,0.338],[2010.30,0.314],[2010.36,0.375],[2010.42,0.356],[2010.48,0.361],[2010.53,0.347],
  [2010.59,0.342],[2010.65,0.268],[2010.71,0.305],[2010.77,0.333],[2010.82,0.268],[2010.88,0.282],[2010.94,0.254],[2011.00,0.268],
  [2011.06,0.249],[2011.12,0.240],[2011.17,0.273],[2011.23,0.245],[2011.29,0.273],[2011.35,0.287],[2011.41,0.249],[2011.47,0.203],
  [2011.52,0.240],[2011.61,0.259],[2011.66,0.347],[2011.73,0.361],[2011.79,0.314],[2011.84,0.291],[2011.91,0.321],[2011.97,0.305],
  [2012.03,0.268],[2012.08,0.245],[2012.17,0.291],[2012.22,0.282],[2012.28,0.268],[2012.34,0.321],[2012.40,0.310],[2012.46,0.305],
  [2012.52,0.305],[2012.57,0.303],[2012.63,0.282],[2012.69,0.249],[2012.75,0.301],[2012.81,0.310],[2012.86,0.268],[2012.92,0.235],
  [2012.98,0.208],[2013.04,0.198],[2013.10,0.203],[2013.21,0.194],[2013.27,0.180],[2013.39,0.180],[2013.51,0.180],[2013.62,0.175],
  [2013.74,0.168],[2013.80,0.157],[2013.86,0.152],[2013.91,0.136],[2014.03,0.138],[2014.09,0.133],[2014.15,0.152],[2014.20,0.133],
  [2014.32,0.129],[2014.44,0.117],[2014.50,0.105],[2014.55,0.129],[2014.61,0.143],[2014.73,0.140],[2014.85,0.138],[2014.96,0.126],
  [2015.02,0.138],[2015.08,0.133],[2015.14,0.129],[2015.24,0.126]
];

const dispCPI = [
  [1988.00,0.400],[1988.06,0.393],[1988.13,0.342],[1988.17,0.270],[1988.24,0.333],[1988.33,0.451],[1988.41,0.426],[1988.47,0.296],
  [1988.52,0.266],[1988.58,0.389],[1988.64,0.314],[1988.70,0.291],[1988.76,0.398],[1988.83,0.389],[1988.89,0.335],[1988.97,0.326],
  [1989.03,0.347],[1989.08,0.361],[1989.14,0.379],[1989.22,0.379],[1989.29,0.347],[1989.38,0.333],[1989.43,0.417],[1989.50,0.412],
  [1989.57,0.384],[1989.64,0.354],[1989.72,0.372],[1989.78,0.417],[1989.84,0.444],[1989.92,0.472],[1989.98,0.335],[1990.05,0.458],
  [1990.11,0.407],[1990.16,0.349],[1990.25,0.347],[1990.31,0.287],[1990.37,0.249],[1990.46,0.231],[1990.54,0.217],[1990.60,0.235],
  [1990.66,0.275],[1990.72,0.268],[1990.80,0.268],[1990.87,0.314],[1990.95,0.389],[1991.02,0.442],[1991.09,0.370],[1991.16,0.314],
  [1991.22,0.319],[1991.30,0.310],[1991.33,0.245],[1991.41,0.254],[1991.48,0.226],[1991.55,0.208],[1991.62,0.210],[1991.71,0.212],
  [1991.79,0.215],[1991.86,0.208],[1991.92,0.273],[1991.97,0.226],[1992.03,0.261],[1992.11,0.203],[1992.18,0.231],[1992.25,0.231],
  [1992.32,0.226],[1992.38,0.212],[1992.44,0.287],[1992.52,0.277],[1992.60,0.277],[1992.67,0.263],[1992.73,0.361],[1992.79,0.305],
  [1992.86,0.263],[1992.93,0.301],[1992.99,0.254],[1993.05,0.249],[1993.10,0.342],[1993.16,0.319],[1993.22,0.284],[1993.28,0.222],
  [1993.36,0.175],[1993.45,0.163],[1993.54,0.189],[1993.63,0.226],[1993.72,0.261],[1993.80,0.256],[1993.89,0.254],[1993.98,0.261],
  [1994.07,0.263],[1994.15,0.259],[1994.21,0.249],[1994.27,0.231],[1994.39,0.217],[1994.45,0.254],[1994.53,0.256],[1994.62,0.273],
  [1994.70,0.263],[1994.77,0.231],[1994.85,0.215],[1994.94,0.212],[1995.03,0.215],[1995.09,0.212],[1995.15,0.226],[1995.20,0.270],
  [1995.26,0.270],[1995.34,0.245],[1995.40,0.203],[1995.47,0.191],[1995.55,0.189],[1995.63,0.208],[1995.73,0.233],[1995.79,0.205],
  [1995.87,0.203],[1995.94,0.212],[1996.02,0.235],[1996.08,0.222],[1996.14,0.205],[1996.22,0.198],[1996.29,0.175],[1996.35,0.145],
  [1996.40,0.203],[1996.49,0.215],[1996.54,0.196],[1996.60,0.173],[1996.66,0.143],[1996.72,0.198],[1996.80,0.245],[1996.87,0.203],
  [1996.95,0.205],[1997.03,0.203],[1997.10,0.217],[1997.19,0.203],[1997.24,0.191],[1997.33,0.203],[1997.39,0.203],[1997.48,0.280],
  [1997.55,0.259],[1997.62,0.212],[1997.69,0.208],[1997.77,0.217],[1997.85,0.222],[1997.92,0.249],[1998.00,0.256],[1998.08,0.254],
  [1998.15,0.280],[1998.23,0.249],[1998.29,0.198],[1998.39,0.247],[1998.47,0.208],[1998.53,0.229],[1998.58,0.194],[1998.67,0.145],
  [1998.74,0.189],[1998.82,0.287],[1998.87,0.282],[1998.97,0.277],[1999.05,0.249],[1999.13,0.217],[1999.20,0.180],[1999.28,0.203],
  [1999.36,0.212],[1999.43,0.203],[1999.52,0.222],[1999.57,0.203],[1999.63,0.215],[1999.71,0.254],[1999.78,0.203],[1999.87,0.231],
  [1999.95,0.254],[2000.02,0.231],[2000.10,0.184],[2000.18,0.157],[2000.24,0.105],[2000.30,0.133],[2000.37,0.245],[2000.45,0.249],
  [2000.53,0.268],[2000.62,0.275],[2000.74,0.152],[2000.79,0.180],[2000.85,0.245],[2000.91,0.217],[2000.97,0.249],[2001.03,0.222],
  [2001.11,0.219],[2001.18,0.212],[2001.26,0.203],[2001.32,0.222],[2001.38,0.291],[2001.46,0.277],[2001.53,0.268],[2001.61,0.231],
  [2001.67,0.212],[2001.73,0.203],[2001.79,0.184],[2001.88,0.217],[2001.94,0.180],[2002.00,0.152],[2002.04,0.203],[2002.11,0.254],
  [2002.19,0.249],[2002.27,0.254],[2002.34,0.212],[2002.39,0.170],[2002.46,0.157],[2002.52,0.157],[2002.58,0.189],[2002.62,0.235],
  [2002.69,0.235],[2002.78,0.226],[2002.86,0.212],[2002.93,0.203],[2003.01,0.198],[2003.07,0.182],[2003.13,0.226],[2003.18,0.245],
  [2003.24,0.254],[2003.30,0.298],[2003.36,0.268],[2003.42,0.217],[2003.48,0.249],[2003.53,0.338],[2003.62,0.342],[2003.67,0.296],
  [2003.74,0.249],[2003.83,0.249],[2003.88,0.268],[2003.94,0.222],[2004.00,0.210],[2004.06,0.208],[2004.14,0.198],[2004.21,0.180],
  [2004.29,0.163],[2004.35,0.184],[2004.41,0.194],[2004.47,0.212],[2004.56,0.240],[2004.64,0.261],[2004.70,0.226],[2004.76,0.157],
  [2004.82,0.166],[2004.87,0.212],[2004.91,0.235],[2004.99,0.184],[2005.05,0.180],[2005.11,0.184],[2005.19,0.184],[2005.25,0.222],
  [2005.32,0.170],[2005.38,0.198],[2005.46,0.194],[2005.52,0.170],[2005.61,0.175],[2005.69,0.235],[2005.77,0.189],[2005.84,0.184],
  [2005.92,0.161],[2005.98,0.180],[2006.04,0.161],[2006.12,0.124],[2006.19,0.177],[2006.27,0.159],[2006.35,0.217],[2006.42,0.212],
  [2006.51,0.198],[2006.59,0.182],[2006.66,0.157],[2006.74,0.157],[2006.82,0.152],[2006.89,0.147],[2006.97,0.133],[2007.03,0.157],
  [2007.11,0.147],[2007.18,0.150],[2007.26,0.126],[2007.32,0.184],[2007.38,0.245],[2007.44,0.261],[2007.50,0.275],[2007.55,0.273],
  [2007.60,0.268],[2007.68,0.231],[2007.74,0.203],[2007.79,0.175],[2007.85,0.217],[2007.91,0.254],[2007.97,0.222],[2008.03,0.235],
  [2008.09,0.245],[2008.14,0.263],[2008.20,0.284],[2008.30,0.282],[2008.38,0.310],[2008.44,0.289],[2008.53,0.301],[2008.58,0.319],
  [2008.65,0.335],[2008.70,0.273],[2008.76,0.254],[2008.81,0.296],[2008.88,0.324],[2008.94,0.347],[2008.99,0.338],[2009.05,0.379],
  [2009.11,0.398],[2009.19,0.366],[2009.25,0.361],[2009.31,0.379],[2009.37,0.368],[2009.43,0.375],[2009.48,0.366],[2009.54,0.417],
  [2009.60,0.463],[2009.65,0.493],[2009.72,0.407],[2009.78,0.449],[2009.83,0.444],[2009.89,0.398],[2009.95,0.389],[2010.01,0.352],
  [2010.07,0.310],[2010.13,0.294],[2010.18,0.347],[2010.24,0.356],[2010.30,0.356],[2010.36,0.342],[2010.42,0.310],[2010.48,0.305],
  [2010.53,0.347],[2010.59,0.352],[2010.65,0.342],[2010.71,0.354],[2010.77,0.291],[2010.82,0.352],[2010.88,0.361],[2010.94,0.398],
  [2011.00,0.398],[2011.06,0.347],[2011.12,0.296],[2011.17,0.389],[2011.21,0.470],[2011.27,0.333],[2011.35,0.324],[2011.41,0.291],
  [2011.47,0.287],[2011.52,0.268],[2011.58,0.305],[2011.64,0.263],[2011.70,0.296],[2011.76,0.307],[2011.82,0.287],[2011.87,0.268],
  [2011.93,0.235],[2011.99,0.277],[2012.05,0.296],[2012.11,0.282],[2012.17,0.226],[2012.22,0.212],[2012.28,0.212],[2012.34,0.238],
  [2012.40,0.203],[2012.46,0.212],[2012.52,0.208],[2012.57,0.203],[2012.63,0.159],[2012.69,0.240],[2012.75,0.231],[2012.81,0.203],
  [2012.86,0.189],[2012.92,0.170],[2012.98,0.180],[2013.04,0.212],[2013.10,0.235],[2013.16,0.194],[2013.21,0.161],[2013.27,0.175],
  [2013.33,0.189],[2013.39,0.163],[2013.45,0.203],[2013.51,0.222],[2013.56,0.249],[2013.62,0.203],[2013.68,0.184],[2013.74,0.208],
  [2013.80,0.198],[2013.86,0.180],[2013.91,0.170],[2013.97,0.166],[2014.09,0.161],[2014.20,0.161],[2014.26,0.129],[2014.32,0.124],
  [2014.38,0.129],[2014.44,0.157],[2014.50,0.163],[2014.61,0.163],[2014.73,0.161],[2014.79,0.166],[2014.85,0.157],[2014.90,0.152],
  [2014.96,0.166],[2015.02,0.152],[2015.08,0.180],[2015.14,0.147],[2015.24,0.140]
];

// ---- drawing ----
const svg = d3.select("#chart");
const AXIS_COLOR = "#5a5a5a",
    LABEL_COLOR = "#444";

function drawPanel(cfg) {
	const x = d3.scaleLinear().domain([1988, 2016]).range([cfg.left, cfg.left + 28 * cfg.pxPerYear]);
	const y = d3.scaleLinear().domain(cfg.yDomain).range([cfg.bottom, cfg.top]);
	const g = svg.append("g");

	g.append("text")
		.text(cfg.title)
		.attr("x", cfg.titleX)
		.attr("y", cfg.titleY)
		.attr("text-anchor", "middle")
		.attr("font-size", "20px")
		.attr("font-weight", "bold")
		.attr("fill", "#000");

	const xAxis = g.append("g")
		.attr("transform", `translate(0,${cfg.bottom})`)
		.call(d3.axisBottom(x).tickValues(yearTicks).tickSize(16).tickSizeOuter(0).tickPadding(6)
			.tickFormat((d) => String(d).slice(2)));
	const yAxis = g.append("g")
		.attr("transform", `translate(${cfg.left},0)`)
		.call(d3.axisLeft(y).tickValues(cfg.yTicks).tickSize(16).tickSizeOuter(0).tickPadding(6)
			.tickFormat(cfg.yFormat));
	[xAxis, yAxis].forEach((a) => {
		a.select(".domain").attr("stroke", AXIS_COLOR).attr("stroke-width", 2);
		a.selectAll(".tick line").attr("stroke", AXIS_COLOR).attr("stroke-width", 2);
		a.selectAll(".tick text")
			.attr("fill", LABEL_COLOR)
			.attr("font-size", "17px")
			.attr("font-family", "'Liberation Sans', Arial, sans-serif");
	});

	const line = d3.line()
		.x((d) => x(d[0]))
		.y((d) => y(d[1]));

	cfg.series.forEach((s, i) => {
		g.append("path")
			.datum(s)
			.attr("d", line)
			.attr("fill", "none")
			.attr("stroke", cfg.colors[i])
			.attr("stroke-width", 3)
			.attr("stroke-linejoin", "round");
	});

	// legend
	const lg = g.append("g").attr("transform", `translate(${cfg.legendX},${cfg.legendY})`);
	cfg.names.forEach((name, i) => {
		const row = lg.append("g").attr("transform", `translate(0,${i * cfg.legendStep})`);
		row.append("line")
			.attr("x1", 0).attr("x2", 30)
			.attr("stroke", cfg.colors[i])
			.attr("stroke-width", 4);
		row.append("text")
			.text(name)
			.attr("x", 33)
			.attr("dy", "0.35em")
			.attr("font-size", "16px")
			.attr("fill", "#000");
	});
}

drawPanel({
	title: "Disagreement about Bond Risk Premia",
	titleX: 449, titleY: 23.5,
	left: 54.5, pxPerYear: 28.67,
	top: 34, bottom: 547,
	yDomain: [0, 18], yTicks: ebrTicks,
	yFormat: (d) => String(d),
	series: [ebr10y, ebr5y, ebr2y],
	names: ebrNames, colors: ebrColors,
	legendX: 732, legendY: 55, legendStep: 17.5
});

drawPanel({
	title: "Disagreement about Macro and Short Rates",
	titleX: 452, titleY: 629,
	left: 59, pxPerYear: 28.6,
	top: 640, bottom: 1149.5,
	yDomain: [0, 0.7], yTicks: macroTicks,
	yFormat: (d) => (d === 0 ? "0" : d.toFixed(1)),
	series: [dispY3, dispGDP, dispCPI],
	names: macroNames, colors: macroColors,
	legendX: 761, legendY: 660, legendStep: 18
});
</script>
</body>
</html>
